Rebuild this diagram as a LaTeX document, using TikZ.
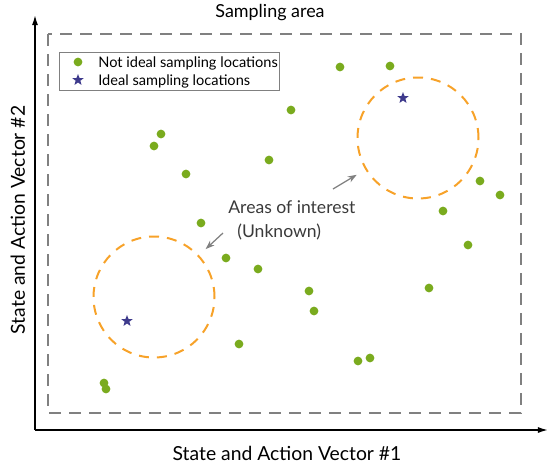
\documentclass[tikz,border=0pt]{standalone}
\usepackage{fontspec}
\setmainfont{Lato}
\usepackage{xcolor}
\usetikzlibrary{arrows.meta,shapes.geometric}
\definecolor{DotGreen}{HTML}{7AAB1E}
\definecolor{RoiOrange}{HTML}{F7A229}
\definecolor{StarBlue}{HTML}{3E3A8C}
\definecolor{FrameGray}{HTML}{808080}
\definecolor{NoteGray}{HTML}{3A3A3A}
\tikzset{
  sample/.style={circle, fill=DotGreen, inner sep=0pt, minimum size=1.75mm},
  ideal/.style={star, star points=5, star point ratio=2.4, fill=StarBlue, inner sep=0pt, minimum size=2.4mm},
  roi/.style={circle, draw=RoiOrange, line width=0.4mm, dash pattern=on 2mm off 1.6mm, minimum size=24.2mm, inner sep=0pt},
  areabox/.style={draw=FrameGray, line width=0.4mm, dash pattern=on 2.4mm off 1.6mm},
  legendframe/.style={draw=FrameGray, line width=0.2mm, minimum width=43.8mm, minimum height=7.6mm, inner sep=0pt},
  axis/.style={-{Latex[length=2mm, width=1.2mm]}, line width=0.3mm, draw=black},
  pointer/.style={-{Stealth[length=1.8mm, width=1.3mm]}, line width=0.25mm, draw=FrameGray},
  axislabel/.style={inner sep=0pt, anchor=base, font=\fontsize{11}{13}\selectfont},
  titletext/.style={inner sep=0pt, anchor=base, font=\fontsize{10.2}{12}\selectfont},
  legendtext/.style={inner sep=0pt, anchor=base west, font=\fontsize{8.3}{10}\selectfont},
  notetext/.style={inner sep=0pt, anchor=base west, text=NoteGray, font=\fontsize{10}{12}\selectfont}
}

\begin{document}
\begin{tikzpicture}[x=0.2mm, y=-0.2mm]
    \useasboundingbox (0,0) rectangle (550,465);

    % axes
    \coordinate (origin) at (35,430);
    \coordinate (xend) at (548,430);
    \coordinate (yend) at (35,15);
    \draw[axis] (origin) -- (xend);
    \draw[axis] (origin) -- (yend);
    \node[axislabel] (xlab) at (287,460) {State and Action Vector \#1};
    \node[axislabel, rotate=90] (ylab) at (25,220) {State and Action Vector \#2};

    % sampling area
    \node[titletext] (title) at (270,17) {Sampling area};
    \draw[areabox] (48,34) rectangle (521,413);

    % legend
    \node[legendframe] (legend) at (169.5,71) {};
    \node[sample] (keydot) at (78,62) {};
    \node[ideal] (keystar) at (78,80) {};
    \node[legendtext] (keytxt1) at (98,67) {Not ideal sampling locations};
    \node[legendtext] (keytxt2) at (98,85.5) {Ideal sampling locations};

    % samples
    \foreach \px/\py [count=\i] in {340/67, 390/66, 291/110, 161/134, 154/146,
        269/160, 186/174, 480/181, 500/195, 443/211, 201/223, 468/245,
        226/258, 258/269, 429/288, 309/291, 314/311, 239/344, 370/358,
        358/361, 104/383, 106/389}
      \node[sample] (s\i) at (\px,\py) {};

    % areas of interest
    \node[roi] (roiA) at (418,138) {};
    \node[roi] (roiB) at (154,297) {};
    \node[ideal] (starA) at (403,98) {};
    \node[ideal] (starB) at (127,321) {};

    \node[notetext] (note1) at (228,213) {Areas of interest};
    \node[notetext] (note2) at (237,237) {(Unknown)};
    \coordinate (tailA) at (333,189);
    \coordinate (tailB) at (223,233);
    \draw[pointer, shorten >=10pt*0.567] (tailA) -- (roiA);
    \draw[pointer, shorten >=9pt*0.567] (tailB) -- (roiB);
  \end{tikzpicture}
\end{document}
